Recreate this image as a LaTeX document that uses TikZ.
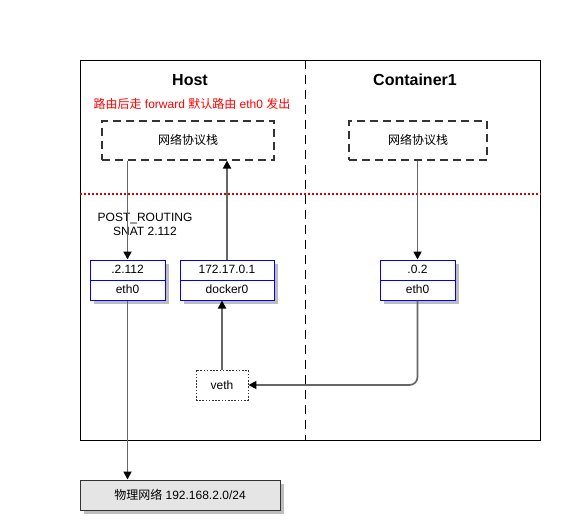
\documentclass[tikz,border=0pt]{standalone}
\usepackage{fontspec}
\setmainfont{Liberation Sans}
\newfontfamily\cjk{Noto Sans CJK SC}
\usetikzlibrary{arrows.meta,shadows}
\definecolor{linegray}{HTML}{666666}
\definecolor{stackgray}{HTML}{333333}
\definecolor{shadowgray}{HTML}{BDBDBD}
\begin{document}
\begin{tikzpicture}[x=1pt,y=-1pt,
  txt/.style={font=\fontsize{12}{14}\selectfont, inner sep=0pt, align=center},
  title/.style={font=\fontsize{16}{18}\selectfont\bfseries, inner sep=0pt},
  stackbox/.style={draw=stackgray, line width=2pt, dash pattern=on 8pt off 5pt, minimum width=172pt, minimum height=39pt, inner sep=0pt, font=\cjk\fontsize{12}{14}\selectfont},
  ifbox/.style={draw=blue, line width=1pt, fill=white, minimum width=75pt, minimum height=40pt, inner sep=0pt,
     drop shadow={shadow xshift=4pt, shadow yshift=-4pt, fill=shadowgray, opacity=1}},
  conn/.style={draw=linegray, line width=1.7pt, -{Triangle[length=8pt,width=8pt,fill=black,color=black]}},
]
\useasboundingbox (0,0) rectangle (575,530);
% outer frame
\node[draw=black, line width=1pt, minimum width=460pt, minimum height=380pt, inner sep=0pt] (frame) at (310,250) {};
% divider
\coordinate (dtop) at (305,60);
\coordinate (dbot) at (305,440);
\draw[black, line width=0.9pt, dash pattern=on 9pt off 6pt] (dtop) -- (dbot);
% red dotted line
\coordinate (rl) at (80,194);
\coordinate (rr) at (541,194);
\draw[red!85!black, line width=2pt, dash pattern=on 2pt off 2pt] (rl) -- (rr);
% titles
\node[title] (host) at (190,80) {Host};
\node[title] (cont) at (415,80) {Container1};
\node[txt, text=red] (note) at (192,104) {{\cjk 路由后走} forward {\cjk 默认路由} eth0 {\cjk 发出}};
% stacks
\node[stackbox] (hstack) at (188,140) {网络协议栈};
\node[stackbox, minimum width=138pt] (cstack) at (418,140) {网络协议栈};
% post routing
\node[txt] (post) at (145,224) {POST\_ROUTING\\SNAT 2.112};
% interface boxes
\node[ifbox] (heth) at (127.5,280) {};
\draw[blue, line width=1pt] (heth.west) -- (heth.east);
\node[txt, anchor=center] (hethip) at (127.5,269.5) {.2.112};
\node[txt] (hethn) at (127.5,289.5) {eth0};

\node[ifbox, minimum width=94pt] (dock) at (227,280) {};
\draw[blue, line width=1pt] (dock.west) -- (dock.east);
\node[txt] (dockip) at (227,269.5) {172.17.0.1};
\node[txt] (dockn) at (227,289.5) {docker0};

\node[ifbox] (ceth) at (417.5,280) {};
\draw[blue, line width=1pt] (ceth.west) -- (ceth.east);
\node[txt] (cethip) at (417.5,269.5) {.0.2};
\node[txt] (cethn) at (417.5,289.5) {eth0};
% veth
\node[draw=stackgray, line width=0.9pt, dash pattern=on 1.6pt off 1.6pt, minimum width=52pt, minimum height=30pt, inner sep=0pt, font=\fontsize{12}{14}\selectfont] (veth) at (222,385) {veth};
% physical net
\node[draw=black!80, line width=1pt, fill=black!10, minimum width=200pt, minimum height=30pt, inner sep=0pt,
  drop shadow={shadow xshift=4pt, shadow yshift=-4pt, fill=shadowgray, opacity=1},
  font=\fontsize{12}{14}\selectfont] (phys) at (180,495) {{\cjk 物理网络} 192.168.2.0/24};
% connectors
\draw[conn] (hstack.south -| heth.north) -- (heth.north);
\draw[conn] (dock.north) -- (hstack.south -| dock.north);
\draw[conn] (veth.north) -- (veth.north |- dock.south);
\draw[conn] (heth.south) -- (heth.south |- phys.north);
\draw[conn] (ceth.north |- cstack.south) -- (ceth.north);
\draw[conn, rounded corners=8pt] (ceth.south) -- (ceth.south |- veth.east) -- (veth.east);
\end{tikzpicture}
\end{document}
